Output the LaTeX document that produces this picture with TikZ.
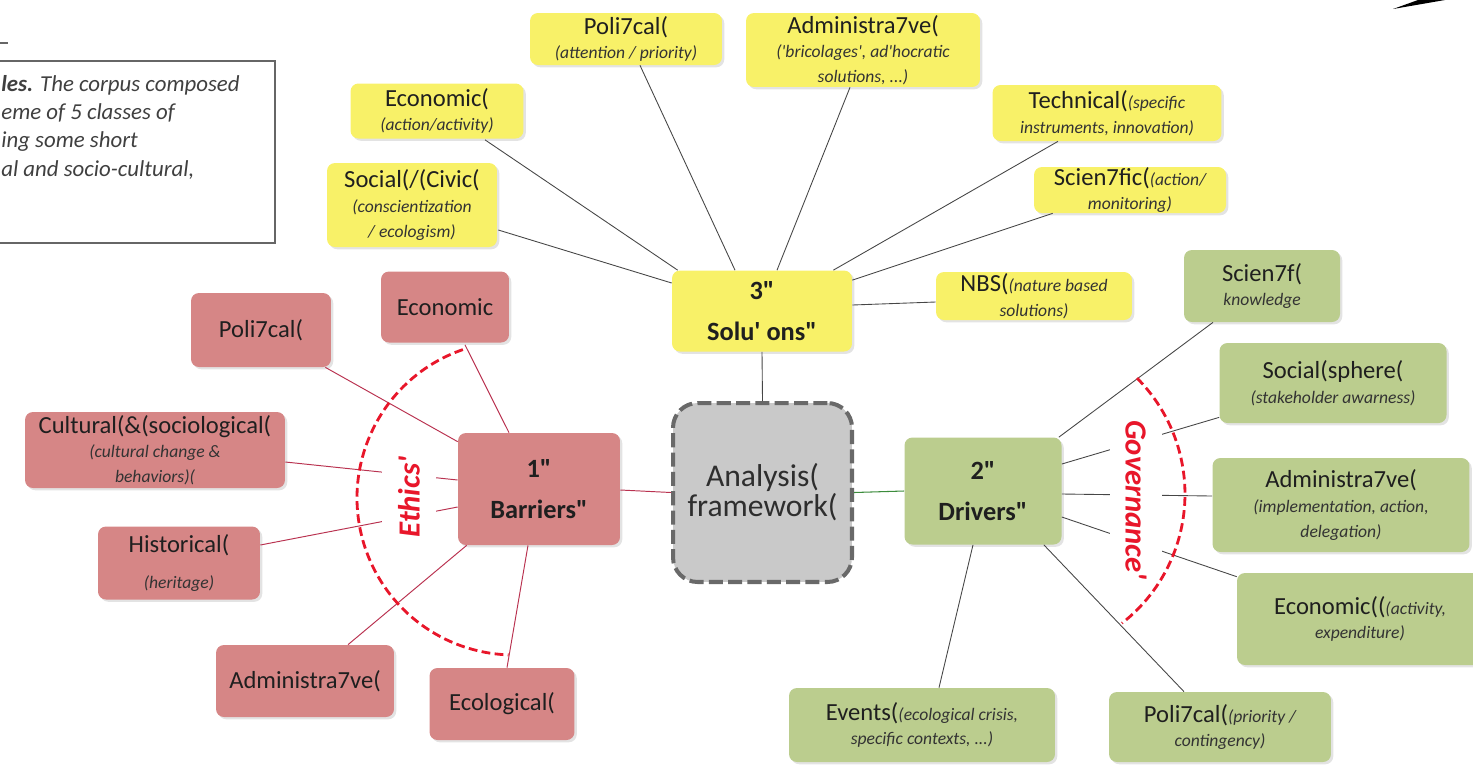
\documentclass[tikz,border=0pt]{standalone}
\usepackage{fontspec}
\setmainfont{Carlito}[Ligatures=TeXOff]
\usetikzlibrary{calc,shadows}
\definecolor{yel}{RGB}{248,241,104}
\definecolor{redf}{RGB}{214,134,134}
\definecolor{grn}{RGB}{187,205,142}
\definecolor{gry}{RGB}{201,201,201}
\definecolor{gryb}{RGB}{105,105,105}
\definecolor{rline}{RGB}{185,50,80}
\definecolor{lline}{RGB}{70,70,70}
\definecolor{grline}{RGB}{60,140,60}
\definecolor{arcred}{RGB}{232,22,42}
\newcommand\subt[1]{{\fontsize{10}{12}\selectfont\itshape\color{black!80}#1}}
\begin{document}
\begin{tikzpicture}[x=0.02cm,y=-0.02cm,
  box/.style={rounded corners=4.5pt, align=center, inner sep=0pt,
    font=\fontsize{14}{14}\selectfont, text=black!88,
    drop shadow={opacity=0.22, shadow xshift=1.3pt, shadow yshift=-1.3pt}},
  ybox/.style={box, fill=yel},
  rbox/.style={box, fill=redf},
  gbox/.style={box, fill=grn},
  hub/.style={font=\fontsize{15}{15}\selectfont\bfseries},
  lnk/.style={draw=lline, line width=0.5pt},
  rlnk/.style={draw=rline, line width=0.55pt},
  glnk/.style={draw=grline, line width=0.6pt},
  gaplabel/.style={fill=white, inner sep=0pt, text=arcred,
    font=\fontsize{17.5}{18}\selectfont\bfseries\itshape},
  gdash/.style={draw=arcred, line width=1.6pt, dash pattern=on 5pt off 2.5pt},
  tline/.style={anchor=west, inner sep=0pt, font=\fontsize{13}{16}\selectfont\itshape, text=black!75}
]
\useasboundingbox (0,0) rectangle (1473,765);

% top-left text box (partly cut)
\node[draw=black!60, line width=0.6pt, minimum width=5.6cm, minimum height=3.64cm, inner sep=0pt] (tlbox) at (135,152) {};
\node[tline] (tl1) at (1,85) {\textbf{les.} The corpus composed};
\node[tline] (tl2) at (1,113) {eme of 5 classes of};
\node[tline] (tl3) at (1,142) {ing some short};
\node[tline] (tl4) at (1,170) {al and socio-cultural,};
\draw[black!60, line width=0.6pt] (0,43) -- (8,43);
\fill[black] (1393,9) -- (1418,0) -- (1445,0) -- cycle;

% central analysis node
\node[draw=gryb, fill=gry, line width=2.3pt, dash pattern=on 8pt off 3pt,
  rounded corners=14pt, minimum width=3.58cm, minimum height=3.58cm,
  align=center, font=\fontsize{18}{17}\selectfont, text=black!82] (ana) at (762.5,492.5) {Analysis(\\framework(};

% solutions (yellow)
\node[ybox, hub, minimum width=3.6cm, minimum height=1.62cm] (sol) at (762,311) {3"\\[8pt]Solu' ons"};
\node[ybox, minimum width=3.84cm, minimum height=1.04cm] (ypol) at (626,39) {Poli7cal(\\\subt{(attention / priority)}};
\node[ybox, minimum width=4.68cm, minimum height=1.48cm] (yadm) at (863,50) {Administra7ve(\\\subt{('bricolages', ad'hocratic}\\\subt{solutions, ...)}};
\node[ybox, minimum width=3.46cm, minimum height=1.1cm] (yeco) at (437,111) {Economic(\\\subt{(action/activity)}};
\node[ybox, minimum width=4.58cm, minimum height=1.12cm] (ytec) at (1107,113) {Technical(\subt{(specific}\\\subt{instruments, innovation)}};
\node[ybox, minimum width=3.84cm, minimum height=0.92cm] (ysci) at (1130,190) {Scien7fic(\subt{(action/}\\\subt{monitoring)}};
\node[ybox, minimum width=3.4cm, minimum height=1.68cm] (ysoc) at (412,205) {Social(/(Civic(\\\subt{(conscientization}\\\subt{/ ecologism)}};
\node[ybox, minimum width=3.92cm, minimum height=0.96cm] (ynbs) at (1034,296) {NBS(\subt{(nature based}\\\subt{solutions)}};

% barriers (red)
\node[rbox, hub, minimum width=3.24cm, minimum height=2.24cm] (rbar) at (539,489) {1"\\[8pt]Barriers"};
\node[rbox, minimum width=2.56cm, minimum height=1.42cm] (reco) at (445,307) {Economic};
\node[rbox, minimum width=2.8cm, minimum height=1.48cm] (rpol) at (261,330) {Poli7cal(};
\node[rbox, minimum width=5.2cm, minimum height=1.52cm] (rcul) at (155,450) {Cultural(\&(sociological(\\\subt{(cultural change \&}\\\subt{behaviors)(}};
\node[rbox, minimum width=3.24cm, minimum height=1.46cm] (rhis) at (179,563) {Historical(\\[6pt]\subt{(heritage)}};
\node[rbox, minimum width=3.56cm, minimum height=1.44cm] (radm) at (305,681) {Administra7ve(};
\node[rbox, minimum width=2.9cm, minimum height=1.44cm] (reco2) at (502,704) {Ecological(};

% drivers (green)
\node[gbox, hub, minimum width=3.14cm, minimum height=2.14cm] (gdri) at (983,491) {2"\\[8pt]Drivers"};
\node[gbox, minimum width=3.12cm, minimum height=1.44cm] (gsci) at (1262,286) {Scien7f(\\\subt{knowledge}};
\node[gbox, minimum width=4.54cm, minimum height=1.6cm] (gsoc) at (1333,383) {Social(sphere(\\\subt{(stakeholder awarness)}};
\node[gbox, minimum width=5.14cm, minimum height=1.88cm] (gadm) at (1341,505) {Administra7ve(\\\subt{(implementation, action,}\\\subt{delegation)}};
\node[gbox, minimum width=4.92cm, minimum height=1.84cm] (geco) at (1360,619) {Economic((\subt{(activity,}\\\subt{expenditure)}};
\node[gbox, minimum width=5.32cm, minimum height=1.48cm] (gev) at (922,725) {Events(\subt{(ecological crisis,}\\\subt{specific contexts, ...)}};
\node[gbox, minimum width=4.44cm, minimum height=1.4cm] (gpol) at (1220,727) {Poli7cal(\subt{(priority /}\\\subt{contingency)}};

% solution connectors
\draw[lnk] ($(ysoc.east)+(1,25)$) -- ($(sol.west)+(0,-28)$);
\draw[lnk] ($(yeco.south)+(48,1)$) -- ($(sol.north west)+(6,0)$);
\draw[lnk] ($(ypol.south)+(14,0)$) -- ($(sol.north)+(-27,0)$);
\draw[lnk] ($(yadm.south)+(-13,0)$) -- ($(sol.north)+(15,0)$);
\draw[lnk] ($(ytec.south)+(-49,0)$) -- ($(sol.north east)+(-19,0)$);
\draw[lnk] ($(ysci.south west)+(19,0)$) -- ($(sol.north east)+(0,10)$);
\draw[lnk] ($(ynbs.west)+(0,6)$) -- ($(sol.east)+(0,-6)$);
\draw[lnk] (sol.south) -- (ana.north);

% barrier connectors
\draw[rlnk] ($(reco.south)+(20,2)$) -- ($(rbar.north)+(-30,0)$);
\draw[rlnk] ($(rpol.south east)+(-6,0)$) -- ($(rbar.north west)+(0,9)$);
\draw[rlnk] ($(rcul.east)+(0,12)$) -- ($(rbar.west)+(0,-9)$);
\draw[rlnk] ($(rhis.east)+(0,-18)$) -- ($(rbar.west)+(0,18)$);
\draw[rlnk] ($(radm.north)+(43,0)$) -- ($(rbar.south west)+(9,0)$);
\draw[rlnk] ($(reco2.north)+(5,0)$) -- ($(rbar.south)+(-11,0)$);
\draw[rlnk] ($(rbar.east)+(0,1)$) -- (ana.west);

% driver connectors
\draw[lnk] ($(gsci.south)+(-49,0)$) -- ($(gdri.north east)+(-3,0)$);
\draw[lnk] ($(gsoc.south west)+(0,-6)$) -- ($(gdri.east)+(0,-27)$);
\draw[lnk] ($(gadm.west)+(0,-9)$) -- ($(gdri.east)+(0,3)$);
\draw[lnk] ($(geco.north west)+(0,4)$) -- ($(gdri.east)+(0,26)$);
\draw[lnk] ($(gev.north)+(17,0)$) -- ($(gdri.south)+(-10,0)$);
\draw[lnk] ($(gpol.north)+(-36,0)$) -- ($(gdri.south east)+(-18,0)$);
\draw[glnk] (gdri.west) -- (ana.east);

% labels over the connectors
\node[gaplabel, rotate=90, minimum width=2.0cm, minimum height=1.08cm] (eth) at (409,497) {Ethics'};
\node[gaplabel, rotate=-90, minimum width=3.8cm, minimum height=1.04cm] (gov) at (1136,500) {Governance'};

% dashed arcs
\begin{scope}[shift={(514,498)}, x=1cm, y=1cm]
\draw[gdash] (109:3.14) arc[start angle=109, end angle=268, radius=3.14];
\end{scope}
\begin{scope}[shift={(1021,494)}, x=1cm, y=1cm]
\draw[gdash] (45:3.28) arc[start angle=45, end angle=-52, radius=3.28];
\end{scope}
\end{tikzpicture}
\end{document}
